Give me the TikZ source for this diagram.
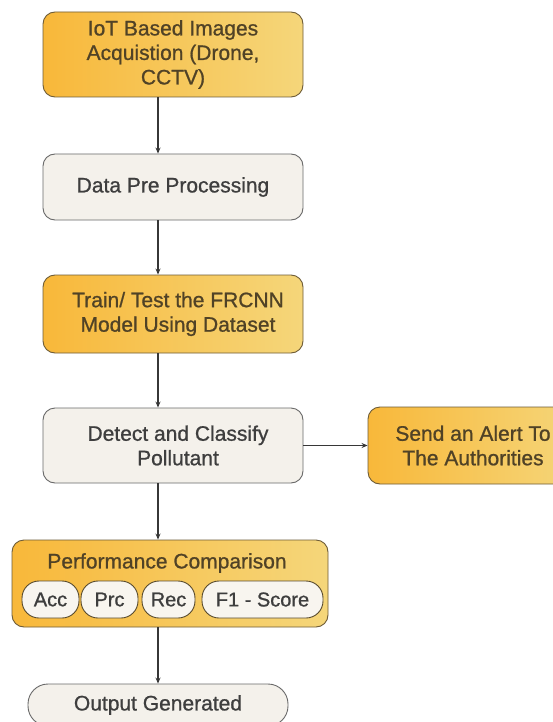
\documentclass[tikz,border=0pt]{standalone}
\usepackage{fontspec}
\setmainfont{Liberation Sans}[BoldFont=Liberation Sans,BoldFeatures={FakeBold=0.9}]
\usetikzlibrary{arrows.meta,shadings}
\definecolor{orL}{RGB}{248,184,58}
\definecolor{orR}{RGB}{245,214,122}
\definecolor{orEdge}{RGB}{110,92,55}
\definecolor{grFill}{RGB}{244,241,235}
\definecolor{grEdge}{RGB}{105,105,105}
\definecolor{pillFill}{RGB}{248,245,239}
\definecolor{txtD}{RGB}{62,62,62}
\definecolor{txtO}{RGB}{80,66,38}
\definecolor{arr}{RGB}{55,55,55}
\begin{document}
\begin{tikzpicture}[x=1pt,y=-1pt,
  base/.style={rectangle,rounded corners=12pt,line width=0.9pt,align=center,
    font=\fontsize{21}{24.5}\selectfont\bfseries,inner sep=0pt},
  orbox/.style={base,draw=orEdge,left color=orL,right color=orR,text=txtO},
  grbox/.style={base,draw=grEdge,fill=grFill,text=txtD},
  pill/.style={rectangle,rounded corners=17pt,draw=orEdge!80!black,line width=0.9pt,
    fill=pillFill,text=txtD,font=\fontsize{20}{24}\selectfont\bfseries,inner sep=0pt,
    minimum height=37pt},
  flow/.style={draw=arr,line width=1.3pt,-{Stealth[length=6pt,width=5pt]}}]
\useasboundingbox (0,0) rectangle (553,722);
\fill[white] (0,0) rectangle (553,722);
\coordinate (ax) at (158,0);
\node[orbox,minimum width=260pt,minimum height=85pt] (b1) at (173,54.5)
  {IoT Based Images\\Acquistion (Drone,\\CCTV)};
\node[grbox,minimum width=260pt,minimum height=66pt] (b2) at (173,187)
  {Data Pre Processing};
\node[orbox,minimum width=260pt,minimum height=78pt] (b3) at (173,314)
  {\hspace*{10pt}Train/ Test the FRCNN\\\hspace*{10pt}Model Using Dataset};
\node[grbox,minimum width=260pt,minimum height=75pt] (b4) at (173,445.5)
  {\hspace*{10pt}Detect and Classify\\\hspace*{10pt}Pollutant};
\node[orbox,minimum width=210pt,minimum height=77pt] (al) at (473,445.5)
  {Send an Alert To\\The Authorities};
\node[orbox,minimum width=316pt,minimum height=87pt] (b5) at (170,583.5) {};
\node[text=txtO,font=\fontsize{21}{24}\selectfont\bfseries,inner sep=0pt] (pt) at (167,563)
  {Performance Comparison};
\node[pill,minimum width=57pt] (acc) at (50.5,599.5) {Acc};
\node[pill,minimum width=57pt] (prc) at (109.5,599.5) {Prc};
\node[pill,minimum width=53pt] (rec) at (168.5,599.5) {Rec};
\node[pill,minimum width=121pt] (f1) at (262.5,599.5) {F1 - Score};
\node[grbox,rounded corners=20pt,minimum width=260pt,minimum height=42pt] (b6) at (158,705)
  {Output Generated};
\draw[flow] (b1.south -| ax) -- (b2.north -| ax);
\draw[flow] (b2.south -| ax) -- (b3.north -| ax);
\draw[flow] (b3.south -| ax) -- (b4.north -| ax);
\draw[flow] (b4.south -| ax) -- (b5.north -| ax);
\draw[flow] (b5.south -| ax) -- (b6.north -| ax);
\draw[flow] (b4.east) -- (al.west);
\end{tikzpicture}
\end{document}
